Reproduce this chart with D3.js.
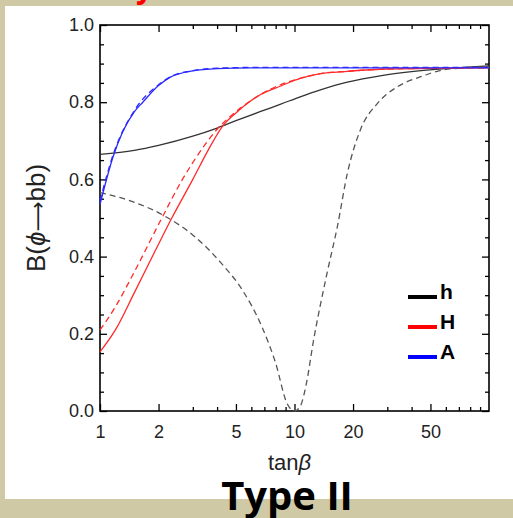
<!DOCTYPE html>
<html>
<head>
<meta charset="utf-8">
<script src="https://cdn.jsdelivr.net/npm/d3@7"></script>
<style>
  body { margin: 0; background: #d0c9a6; }
  svg { display: block; }
</style>
</head>
<body>
<div id="chart"></div>
<script>
// tick values
var xMajor = [1, 2, 5, 10, 20, 50];
var xMinor = [3, 4, 6, 7, 8, 9, 30, 40, 60, 70, 80, 90];
var yMajor = [0, 0.2, 0.4, 0.6, 0.8, 1.0];
var yMinor = [0.05, 0.1, 0.15, 0.25, 0.3, 0.35, 0.45, 0.5, 0.55, 0.65, 0.7, 0.75, 0.85, 0.9, 0.95];

// curves: [tanBeta, B(phi->bb)]
var hSolid = [[1,0.665],[1.5,0.675],[2,0.688],[3,0.712],[4,0.733],[5,0.752],[6.7,0.776],[8.5,0.795],[10.7,0.814],[13.6,0.832],[18.7,0.852],[28,0.869],[40,0.879],[60,0.887],[100,0.894]];
var hDashed = [[1,0.566],[1.4,0.546],[2.1,0.508],[3.1,0.45],[4.2,0.383],[5.4,0.313],[6.8,0.218],[8,0.124],[9.15,0.02],[10,0],[10.7,0.012],[11.5,0.07],[12.5,0.18],[14.7,0.357],[16.6,0.477],[18.7,0.616],[21.8,0.728],[26.7,0.797],[33.8,0.84],[44.6,0.866],[58.6,0.884],[100,0.892]];
var HSolid = [[1,0.153],[1.2,0.21],[1.5,0.306],[1.9,0.41],[2.34,0.50],[3,0.60],[3.6,0.676],[4.3,0.74],[5,0.772],[6.7,0.82],[8.5,0.842],[10.7,0.862],[13.6,0.874],[18.7,0.88],[30,0.886],[100,0.889]];
var HDashed = [[1,0.21],[1.2,0.27],[1.5,0.36],[2.08,0.50],[2.64,0.598],[3.2,0.665],[4,0.73],[4.85,0.77],[6,0.805],[8,0.84],[10.7,0.862],[13.6,0.874],[18.7,0.88],[30,0.886],[100,0.889]];
var ASolid = [[1,0.535],[1.17,0.66],[1.3,0.72],[1.5,0.775],[1.66,0.80],[2,0.843],[2.3,0.865],[3,0.881],[4,0.887],[6,0.889],[100,0.889]];
var ADashed = [[1,0.545],[1.17,0.665],[1.5,0.778],[2,0.845],[2.3,0.866],[3,0.882],[4,0.888],[6,0.89],[100,0.89]];

var legendNames = ["h", "H", "A"];
var legendColors = ["#000000", "#ff0000", "#0000ff"];

var width = 513, height = 518;
var margin = {top: 25, right: 24, bottom: 107, left: 100};

var svg = d3.select("#chart").append("svg")
    .attr("width", width)
    .attr("height", height);

// white panel on the beige page
svg.append("rect").attr("x", 5).attr("y", 6).attr("width", 508).attr("height", 493).attr("fill", "#fff");

// cut-off red heading at the very top
svg.append("text").attr("x", 136).attr("y", -2)
    .attr("font-family", "Open Sans, sans-serif").attr("font-weight", "bold")
    .attr("font-size", 30).attr("fill", "#ff0000").text("y");

var x = d3.scaleLog().domain([1, 100]).range([margin.left, width - margin.right]);
var y = d3.scaleLinear().domain([0, 1]).range([height - margin.bottom, margin.top]);

var x0 = margin.left, x1 = width - margin.right, y0 = height - margin.bottom, y1 = margin.top;

// axes: ticks point inward on all four sides
function styleAxis(g) {
    g.select(".domain").remove();
    g.selectAll("line").attr("stroke", "#000").attr("stroke-width", 1.3);
    g.selectAll("text").attr("font-family", "Liberation Sans, Arial, sans-serif")
        .attr("font-size", 18).attr("fill", "#222");
}

svg.append("g").attr("transform", "translate(0," + y0 + ")")
    .call(d3.axisBottom(x).tickValues(xMajor).tickSize(-7).tickPadding(14).tickFormat(d3.format("d")))
    .call(styleAxis);
svg.append("g").attr("transform", "translate(0," + y0 + ")")
    .call(d3.axisBottom(x).tickValues(xMinor).tickSize(-4).tickFormat(""))
    .call(styleAxis);
svg.append("g").attr("transform", "translate(0," + y1 + ")")
    .call(d3.axisTop(x).tickValues(xMajor).tickSize(-7).tickFormat(""))
    .call(styleAxis);
svg.append("g").attr("transform", "translate(0," + y1 + ")")
    .call(d3.axisTop(x).tickValues(xMinor).tickSize(-4).tickFormat(""))
    .call(styleAxis);

svg.append("g").attr("transform", "translate(" + x0 + ",0)")
    .call(d3.axisLeft(y).tickValues(yMajor).tickSize(-7).tickPadding(6).tickFormat(d3.format(".1f")))
    .call(styleAxis);
svg.append("g").attr("transform", "translate(" + x0 + ",0)")
    .call(d3.axisLeft(y).tickValues(yMinor).tickSize(-4).tickFormat(""))
    .call(styleAxis);
svg.append("g").attr("transform", "translate(" + x1 + ",0)")
    .call(d3.axisRight(y).tickValues(yMajor).tickSize(-7).tickFormat(""))
    .call(styleAxis);
svg.append("g").attr("transform", "translate(" + x1 + ",0)")
    .call(d3.axisRight(y).tickValues(yMinor).tickSize(-4).tickFormat(""))
    .call(styleAxis);

// frame
svg.append("rect").attr("x", x0).attr("y", y1).attr("width", x1 - x0).attr("height", y0 - y1)
    .attr("fill", "none").attr("stroke", "#000").attr("stroke-width", 1.6);

// curves
var line = d3.line()
    .x(function(d) { return x(d[0]); })
    .y(function(d) { return y(d[1]); })
    .curve(d3.curveMonotoneX);

var curves = [
    {data: hSolid, color: "#333", dash: null},
    {data: hDashed, color: "#555", dash: "6,4"},
    {data: HSolid, color: "#ff2a2a", dash: null},
    {data: HDashed, color: "#ff2a2a", dash: "6,4"},
    {data: ASolid, color: "#2a2aff", dash: null},
    {data: ADashed, color: "#2a2aff", dash: "6,4"}
];

svg.append("g").selectAll("path")
    .data(curves)
    .enter()
    .append("path")
    .attr("d", function(d) { return line(d.data); })
    .attr("fill", "none")
    .attr("stroke", function(d) { return d.color; })
    .attr("stroke-width", 1.3)
    .attr("stroke-dasharray", function(d) { return d.dash; });

// legend
var legend = svg.append("g").selectAll("g")
    .data(legendNames)
    .enter()
    .append("g")
    .attr("transform", function(d, i) { return "translate(408," + (297 + i * 30) + ")"; });
legend.append("line")
    .attr("x1", 0).attr("x2", 29).attr("y1", 0).attr("y2", 0)
    .attr("stroke", function(d, i) { return legendColors[i]; })
    .attr("stroke-width", 4);
legend.append("text")
    .attr("x", 32).attr("y", 2)
    .attr("font-family", "Liberation Sans, Arial, sans-serif")
    .attr("font-weight", "bold").attr("font-size", 21)
    .text(function(d) { return d; });

// axis titles
var xt = svg.append("text")
    .attr("x", 268).attr("y", 470)
    .attr("font-family", "Liberation Sans, Arial, sans-serif")
    .attr("font-size", 22).attr("fill", "#222");
xt.append("tspan").text("tan");
xt.append("tspan").attr("font-style", "italic").text("β");

var yt = svg.append("text")
    .attr("transform", "translate(45,272) rotate(-90)")
    .attr("font-family", "Liberation Sans, Arial, sans-serif")
    .attr("font-size", 26).attr("fill", "#222");
yt.append("tspan").text("B(");
yt.append("tspan").attr("font-style", "italic").text("ϕ");
yt.append("tspan").attr("font-family", "DejaVu Sans, sans-serif").attr("font-size", 21).text("⟶");
yt.append("tspan").text("bb)");

// caption
svg.append("text")
    .attr("x", 287).attr("y", 510)
    .attr("text-anchor", "middle")
    .attr("font-family", "Open Sans, sans-serif")
    .attr("font-weight", "bold").attr("font-size", 40)
    .text("Type II");
</script>
</body>
</html>
